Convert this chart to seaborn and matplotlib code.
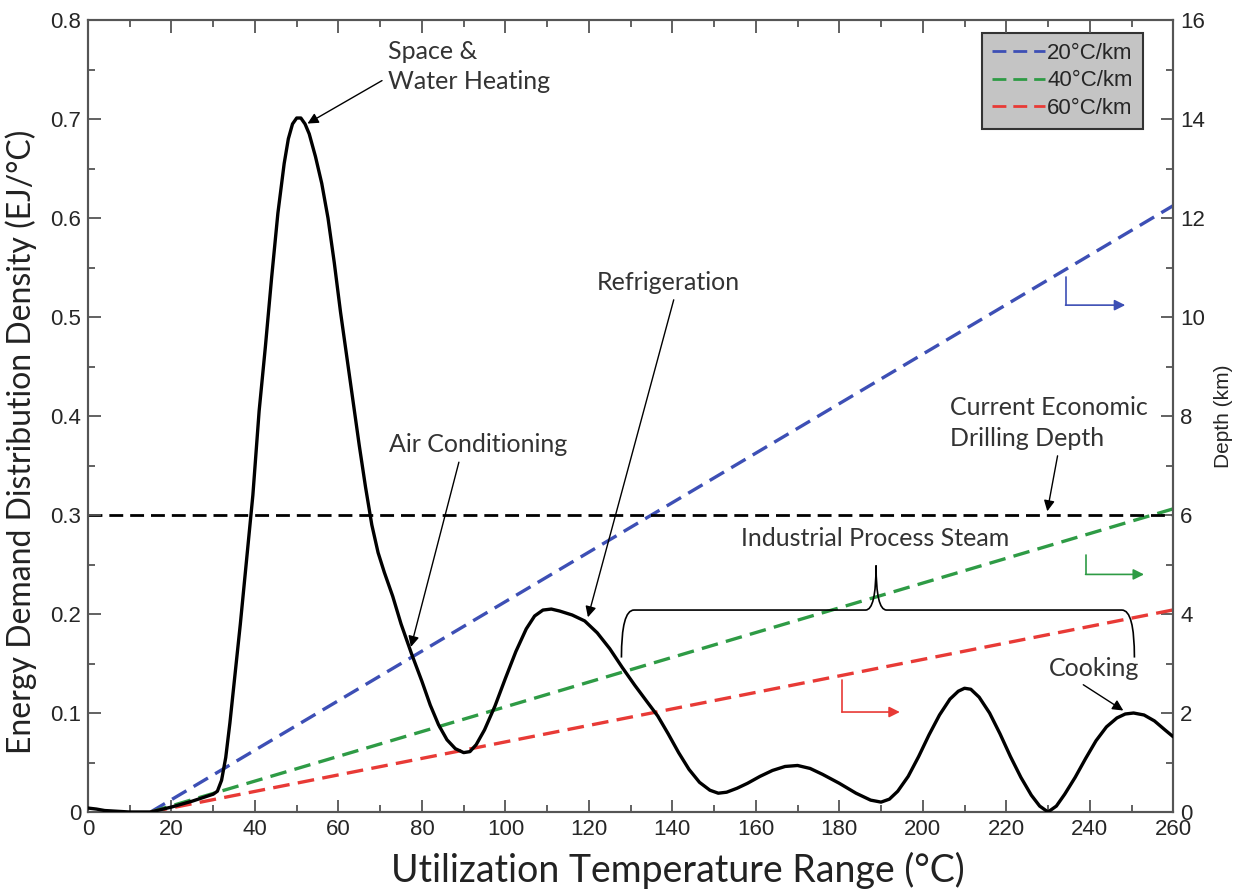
import numpy as np
import pandas as pd
import matplotlib
matplotlib.use("Agg")
import matplotlib.pyplot as plt
from matplotlib.path import Path
from matplotlib.patches import PathPatch
from matplotlib.ticker import MultipleLocator
import seaborn as sns

# Energy demand density curve
temp = [0, 2, 4, 6, 10, 15, 20, 25, 30, 31, 32, 33, 34, 35, 36.5, 38, 39.5, 41,
        42.5, 44, 45.5, 47, 48, 49, 50, 51, 52, 53, 54.5, 56, 57.5, 59, 60.5, 62,
        63.5, 65, 66.5, 68, 69.5, 71, 73, 75, 77.5, 80, 82, 84, 86, 88, 90, 91.5,
        93, 95, 97.5, 100, 102.5, 105, 107, 109, 111, 113, 116, 119, 122, 125,
        128, 131, 134, 136.5, 139, 141.5, 144, 146.5, 149, 151, 153, 155.5, 158,
        161, 164, 167, 170, 173, 176, 180, 184, 187.5, 190, 192, 194, 196.5, 199,
        201.5, 204, 206.5, 208.5, 210, 211.5, 213.5, 216, 218.5, 221, 223.5,
        226, 228, 230, 232, 234, 236.5, 239, 241.5, 244, 246.5, 248.5, 250.5,
        253, 255.5, 258, 260]
density = [0.004, 0.003, 0.0015, 0.001, 0.0, 0.0, 0.005, 0.011, 0.018, 0.021,
           0.032, 0.055, 0.09, 0.13, 0.19, 0.255, 0.32, 0.405, 0.47, 0.54,
           0.605, 0.655, 0.68, 0.695, 0.701, 0.701, 0.695, 0.685, 0.662, 0.635,
           0.6, 0.555, 0.505, 0.46, 0.415, 0.37, 0.328, 0.29, 0.262, 0.242,
           0.218, 0.19, 0.16, 0.132, 0.108, 0.088, 0.073, 0.064, 0.06, 0.061,
           0.068, 0.083, 0.107, 0.135, 0.162, 0.185, 0.198, 0.204, 0.205, 0.203,
           0.199, 0.193, 0.181, 0.165, 0.146, 0.128, 0.111, 0.097, 0.079, 0.06,
           0.043, 0.03, 0.022, 0.019, 0.02, 0.024, 0.029, 0.036, 0.042, 0.046,
           0.047, 0.044, 0.038, 0.029, 0.019, 0.012, 0.01, 0.013, 0.021, 0.036,
           0.056, 0.078, 0.098, 0.114, 0.122, 0.125, 0.124, 0.116, 0.1, 0.079,
           0.056, 0.035, 0.017, 0.006, 0.0, 0.006, 0.018, 0.035, 0.054, 0.072,
           0.086, 0.095, 0.099, 0.1, 0.098, 0.092, 0.083, 0.076]

# Geothermal gradient lines (depth in km vs temperature)
grad_temp = [15, 260]
depth_20 = [0, 12.25]
depth_40 = [0, 6.125]
depth_60 = [0, 4.083]
grad_labels = ["20\u00b0C/km", "40\u00b0C/km", "60\u00b0C/km"]
grad_colors = ["#3d4fb5", "#2e9b45", "#e83a36"]

drill_temp = [0, 260]
drill_depth = [6, 6]

sns.set_style("ticks")
plt.rcParams["font.family"] = ["Liberation Sans", "DejaVu Sans"]
label_font = "Lato"

fig = plt.figure(figsize=(12.41, 8.89), dpi=100)
ax = fig.add_axes([0.0709, 0.0866, 0.8745, 0.8909])
ax2 = ax.twinx()

df = pd.DataFrame({"temp": temp, "density": density})
sns.lineplot(data=df, x="temp", y="density", ax=ax, color="black",
             linewidth=2.4, sort=False, zorder=3)

grad_df = pd.DataFrame({
    "temp": grad_temp * 3,
    "depth": depth_20 + depth_40 + depth_60,
    "gradient": [grad_labels[0]] * 2 + [grad_labels[1]] * 2 + [grad_labels[2]] * 2,
})
sns.lineplot(data=grad_df, x="temp", y="depth", hue="gradient",
             palette=dict(zip(grad_labels, grad_colors)), ax=ax2,
             linewidth=2.4, dashes=False)
for line in ax2.get_lines():
    line.set_dashes([5, 2.5])

ax2.plot(drill_temp, drill_depth, color="black", linewidth=2.0, dashes=[5, 2.5])

# axes styling
ax.set_xlim(0, 260)
ax.set_ylim(0, 0.8)
ax2.set_ylim(0, 16)
ax.xaxis.set_major_locator(MultipleLocator(20))
ax.xaxis.set_minor_locator(MultipleLocator(10))
ax.yaxis.set_minor_locator(MultipleLocator(0.05))
ax2.yaxis.set_major_locator(MultipleLocator(2))
ax2.yaxis.set_minor_locator(MultipleLocator(1))
ax.set_yticks(np.arange(0, 0.81, 0.1))
ax.set_yticklabels(["0"] + [f"{v:.1f}" for v in np.arange(0.1, 0.81, 0.1)])

spine_col = "#555555"
for a in (ax, ax2):
    for s in a.spines.values():
        s.set_color(spine_col)
        s.set_linewidth(1.5)
        s.set_visible(True)
ax.tick_params(which="both", direction="in", top=True, color=spine_col,
               labelsize=16, width=1.3, pad=5)
ax.tick_params(which="major", length=9)
ax.tick_params(which="minor", length=5)
ax2.tick_params(which="both", direction="in", color=spine_col, labelsize=16,
                width=1.3, pad=5)
ax2.tick_params(which="major", length=9)
ax2.tick_params(which="minor", length=5)

ax.set_xlabel("Utilization Temperature Range (\u00b0C)", fontsize=27,
              family=label_font, color="#222222")
ax.xaxis.set_label_coords(0.544, -0.05)
ax.set_ylabel("Energy Demand Distribution Density (EJ/\u00b0C)", fontsize=23,
              family=label_font, color="#222222")
ax.yaxis.set_label_coords(-0.047, 0.467)
ax2.set_ylabel("Depth (km)", fontsize=15)
ax2.yaxis.set_label_coords(1.038, 0.5)

leg = ax2.legend(loc="upper right", bbox_to_anchor=(0.982, 0.998), fontsize=16,
                 frameon=True, fancybox=False, framealpha=1, handlelength=2.4,
                 handletextpad=0.1, borderpad=0.45, labelspacing=0.3)
leg.get_frame().set_facecolor("#c4c4c4")
leg.get_frame().set_edgecolor("#333333")
leg.get_frame().set_linewidth(1.5)
for h in leg.get_lines():
    h.set_linewidth(2.0)

# annotations
ann_kw = dict(fontsize=18, family=label_font, color="#333333")
arrow_kw = dict(arrowstyle="-|>", color="black", lw=1.0, mutation_scale=16)
ax.annotate("Space &\nWater Heating", xy=(52, 0.694), xytext=(71.8, 0.78),
            ha="left", va="top", linespacing=1.4,
            arrowprops=dict(**arrow_kw, relpos=(0.0, 0.3)), **ann_kw)
ax.annotate("Refrigeration", xy=(119.6, 0.194), xytext=(139, 0.535),
            ha="center", va="center",
            arrowprops=dict(**arrow_kw, relpos=(0.55, 0.0)), **ann_kw)
ax.annotate("Air Conditioning", xy=(77.2, 0.164), xytext=(93.5, 0.371),
            ha="center", va="center",
            arrowprops=dict(**arrow_kw, relpos=(0.4, 0.0)), **ann_kw)
ax.annotate("Current Economic\nDrilling Depth", xy=(229.7, 0.301), xytext=(206.5, 0.42),
            ha="left", va="top", linespacing=1.4,
            arrowprops=dict(**arrow_kw, relpos=(0.55, 0.0)), **ann_kw)
ax.annotate("Cooking", xy=(248.6, 0.101), xytext=(241, 0.145),
            ha="center", va="center",
            arrowprops=dict(**arrow_kw, relpos=(0.3, 0.0)), **ann_kw)
ax.text(188.5, 0.276, "Industrial Process Steam", ha="center", va="center", **ann_kw)

# curly brace over industrial process steam
xl, xr, xm = 127.8, 250.7, 188.8
yb, yh, yp = 0.156, 0.204, 0.249
verts = [(xl, yb), (xl, yh), (xl + 3, yh), (xm - 2.5, yh), (xm, yh), (xm, yp),
         (xm, yh), (xm + 2.5, yh), (xr - 3, yh), (xr, yh), (xr, yb)]
codes = [Path.MOVETO, Path.CURVE3, Path.CURVE3, Path.LINETO, Path.CURVE3, Path.CURVE3,
         Path.CURVE3, Path.CURVE3, Path.LINETO, Path.CURVE3, Path.CURVE3]
ax.add_patch(PathPatch(Path(verts, codes), fill=False, lw=1.2, color="black"))

# small direction arrows to the depth axis
for (xa, y0, y1, x1), col in zip([(234.2, 0.540, 0.512, 248.5),
                                  (239.0, 0.260, 0.240, 253.0),
                                  (180.6, 0.133, 0.101, 194.5)], grad_colors):
    ax.plot([xa, xa], [y0, y1], color=col, lw=1.2)
    ax.annotate("", xy=(x1, y1), xytext=(xa, y1),
                arrowprops=dict(arrowstyle="-|>", color=col, lw=1.2, mutation_scale=16,
                                shrinkA=0, shrinkB=0))

ax.set_zorder(ax2.get_zorder() + 1)
ax.patch.set_visible(False)

fig.savefig("out.png", dpi=100)
